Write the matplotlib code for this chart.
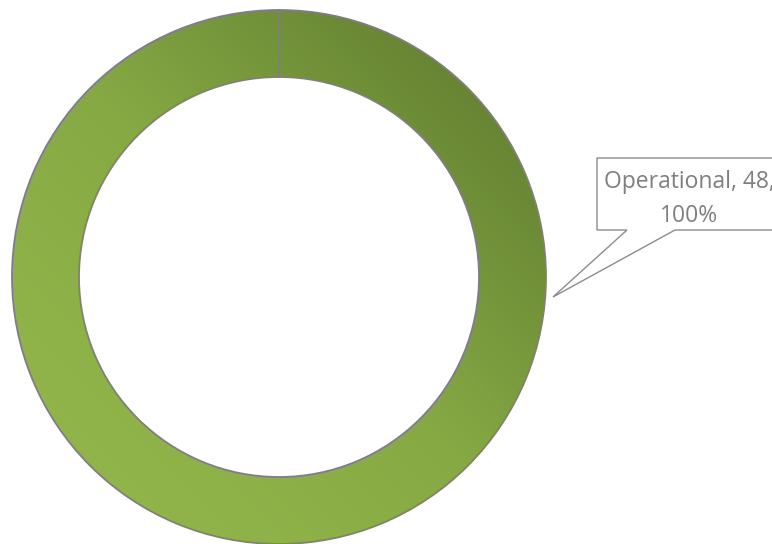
import numpy as np
import matplotlib
matplotlib.use("Agg")
import matplotlib.pyplot as plt
from matplotlib.patches import Polygon
from matplotlib.colors import LinearSegmentedColormap

categories = ["Operational"]
values = [48]
label_text = ["Operational, 48,", "100%"]

W, H = 772, 544
fig = plt.figure(figsize=(W / 100, H / 100), dpi=100)
ax = fig.add_axes([0, 0, 1, 1])

cx, cy = 279, H - 277
R, ring = 267, 67
start_angle = 90

wedges, _ = ax.pie(values, radius=R, center=(cx, cy), startangle=start_angle,
                   counterclock=False, frame=True,
                   wedgeprops=dict(width=ring, facecolor="none",
                                   edgecolor="#7f7f7f", linewidth=1.3))
ax.set_xlim(0, W)
ax.set_ylim(0, H)
ax.set_aspect("auto")
ax.axis("off")

# diagonal gradient: dark top-right -> light bottom-left
cmap = LinearSegmentedColormap.from_list("g", ["#95b84c", "#86a944", "#5f7b2f"])
n = 400
xs = np.linspace(-1, 1, n)
X, Y = np.meshgrid(xs, xs)
G = (X + Y) / 2
img = ax.imshow(G, cmap=cmap, extent=(cx - R, cx + R, cy - R, cy + R),
                origin="lower", aspect="auto", zorder=1, vmin=-0.9, vmax=0.9)
img.set_clip_path(wedges[0])
wedges[0].set_zorder(2)

# slice boundary at start angle
a = np.deg2rad(start_angle)
ax.plot([cx + (R - ring) * np.cos(a), cx + R * np.cos(a)],
        [cy + (R - ring) * np.sin(a), cy + R * np.sin(a)],
        color="#7f7f7f", lw=1.3, zorder=2)

# callout
def P(x, y):
    return (x, H - y)

callout = Polygon([P(597, 158), P(790, 158), P(790, 230), P(675, 230),
                   P(553, 297), P(627, 230), P(597, 230)],
                  closed=True, facecolor="white", edgecolor="#8c8c8c",
                  linewidth=1.0, zorder=3)
ax.add_patch(callout)

ax.text(689, H - 188, label_text[0], ha="center", va="baseline",
        fontsize=16.5, color="#7f7f7f", family="Open Sans", zorder=4)
ax.text(689, H - 222, label_text[1], ha="center", va="baseline",
        fontsize=16.5, color="#7f7f7f", family="Open Sans", zorder=4)

fig.savefig("out.png", dpi=100)
